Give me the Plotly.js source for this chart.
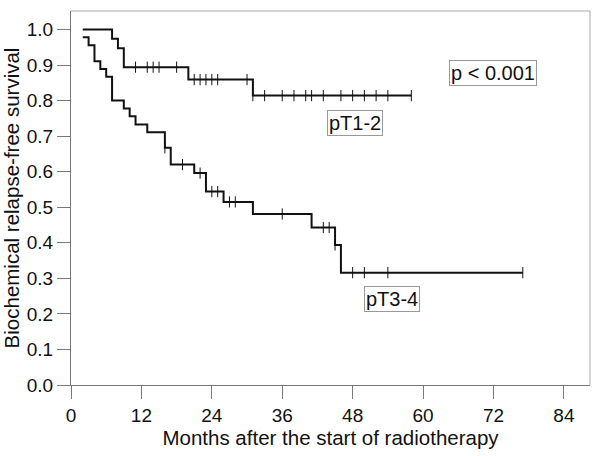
<!DOCTYPE html>
<html>
<head>
<meta charset="utf-8">
<script src="https://cdn.plot.ly/plotly-3.0.1.min.js"></script>
<style>html,body{margin:0;padding:0;background:#fff}#chart{width:600px;height:456px}</style>
</head>
<body>
<div id="chart"></div>
<script>
// pT1-2 step curve (months, survival)
const t12 = [2, 7, 8, 9, 20, 31, 58];
const s12 = [1.0, 0.974, 0.947, 0.894, 0.859, 0.814, 0.814];
const c12 = [11, 13, 14, 15, 18, 21, 22, 23, 24, 25, 30, 31, 33, 36, 38, 40, 41, 43, 46, 48, 50, 52, 54, 58];

// pT3-4 step curve
const t34 = [2, 3, 4, 5, 6, 7, 9, 10, 11, 13, 16, 17, 21, 23, 26, 31, 41, 45, 46, 77];
const s34 = [0.978, 0.956, 0.911, 0.889, 0.867, 0.800, 0.778, 0.756, 0.733, 0.711, 0.667, 0.620, 0.596, 0.544, 0.515, 0.481, 0.443, 0.394, 0.316, 0.316];
const c34 = [16, 19, 22, 24, 25, 27, 28, 36, 43, 44, 45, 48, 50, 54, 77];

const xTicks = [0, 12, 24, 36, 48, 60, 72, 84];
const yTicks = [0, 0.1, 0.2, 0.3, 0.4, 0.5, 0.6, 0.7, 0.8, 0.9, 1.0];
const yTickText = ['0.0','0.1','0.2','0.3','0.4','0.5','0.6','0.7','0.8','0.9','1.0'];

function stepAt(ts, ss, t) {
  let v = ss[0];
  for (let i = 0; i < ts.length; i++) { if (ts[i] <= t) v = ss[i]; }
  return v;
}

const lineStyle = {color: '#111', width: 2, shape: 'hv'};
const markStyle = {symbol: 'line-ns', size: 8, line: {color: '#111', width: 1}, color: '#111'};

const traces = [
  {x: t12, y: s12, mode: 'lines', line: lineStyle, hoverinfo: 'skip'},
  {x: t34, y: s34, mode: 'lines', line: lineStyle, hoverinfo: 'skip'},
  {x: c12, y: c12.map(t => stepAt(t12, s12, t)), mode: 'markers', marker: markStyle, hoverinfo: 'skip'},
  {x: c34, y: c34.map(t => stepAt(t34, s34, t)), mode: 'markers', marker: markStyle, hoverinfo: 'skip'}
];

const fontFam = 'Liberation Sans, Arial, sans-serif';
const layout = {
  width: 600, height: 456,
  margin: {l: 71, r: 9.5, t: 10.7, b: 71, pad: 0},
  paper_bgcolor: '#fff', plot_bgcolor: '#fff',
  showlegend: false,
  font: {family: fontFam, color: '#111'},
  xaxis: {
    range: [0, 88.45], tickvals: xTicks, ticktext: xTicks.map(String),
    ticks: 'outside', ticklen: 13, tickcolor: '#777', tickwidth: 1,
    showline: true, linecolor: '#777', linewidth: 1, showgrid: false, zeroline: false,
    tickfont: {size: 19, family: fontFam, color: '#111'},
    title: {text: 'Months after the start of radiotherapy', font: {size: 20.5, family: fontFam, color: '#111'}, standoff: 4}
  },
  yaxis: {
    range: [0, 1.052], tickvals: yTicks, ticktext: yTickText,
    ticks: 'outside', ticklen: 13, tickcolor: '#777', tickwidth: 1,
    showline: true, linecolor: '#777', linewidth: 1, showgrid: false, zeroline: false,
    tickfont: {size: 19, family: fontFam, color: '#111'},
    title: {text: 'Biochemical relapse-free survival', font: {size: 20.5, family: fontFam, color: '#111'}, standoff: 2}
  },
  shapes: [
    {type: 'line', xref: 'paper', yref: 'paper', x0: 0, x1: 1, y0: 1, y1: 1, line: {color: '#aaa', width: 1}},
    {type: 'line', xref: 'paper', yref: 'paper', x0: 1, x1: 1, y0: 0, y1: 1, line: {color: '#aaa', width: 1}}
  ],
  annotations: [
    {x: 72.0, y: 0.877, text: 'p < 0.001', showarrow: false, bordercolor: '#999', borderwidth: 1, borderpad: 1, font: {size: 20, family: fontFam, color: '#111'}},
    {x: 48.4, y: 0.738, text: 'pT1-2', showarrow: false, bordercolor: '#999', borderwidth: 1, borderpad: 1, font: {size: 20, family: fontFam, color: '#111'}},
    {x: 54.7, y: 0.242, text: 'pT3-4', showarrow: false, bordercolor: '#999', borderwidth: 1, borderpad: 1, font: {size: 20, family: fontFam, color: '#111'}}
  ]
};

Plotly.newPlot('chart', traces, layout, {staticPlot: true, displayModeBar: false});
</script>
</body>
</html>
